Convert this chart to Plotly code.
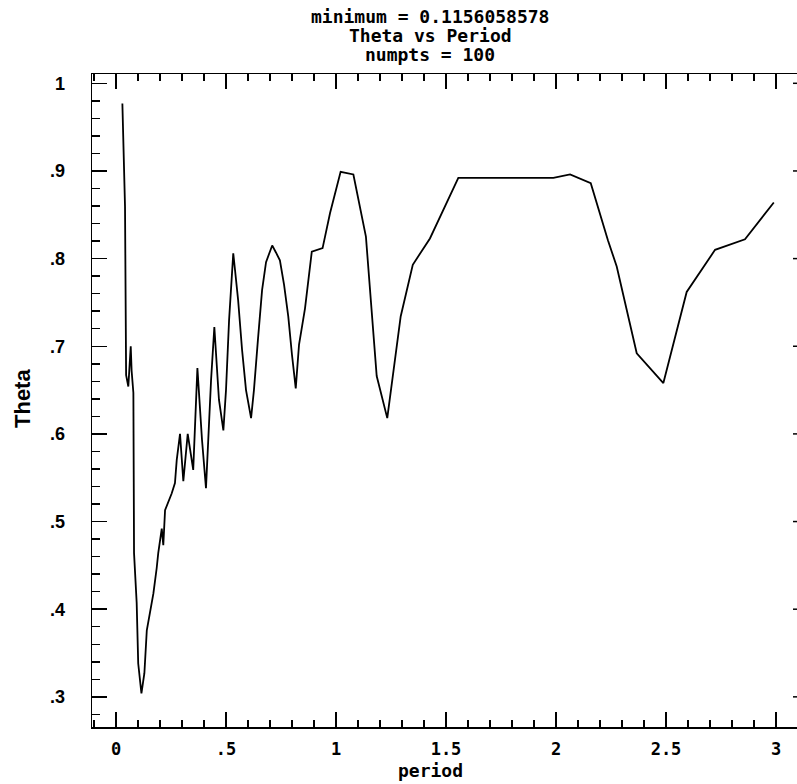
import plotly.graph_objects as go

# ---- data ----
period = [0.029, 0.033, 0.041, 0.046, 0.056, 0.067, 0.071, 0.079, 0.082, 0.094,
          0.101, 0.1156, 0.129, 0.140, 0.155, 0.170, 0.185, 0.192, 0.208, 0.215,
          0.223, 0.253, 0.268, 0.276, 0.291, 0.306, 0.326, 0.351, 0.370, 0.391,
          0.409, 0.418, 0.432, 0.447, 0.457, 0.468, 0.488, 0.500, 0.514, 0.533,
          0.541, 0.555, 0.573, 0.591, 0.614, 0.627, 0.645, 0.664, 0.682, 0.710,
          0.727, 0.745, 0.764, 0.783, 0.800, 0.817, 0.832, 0.859, 0.890, 0.939,
          0.973, 1.021, 1.079, 1.136, 1.185, 1.233, 1.294, 1.349, 1.427, 1.480,
          1.556, 1.988, 2.064, 2.158, 2.236, 2.276, 2.367, 2.488, 2.594, 2.723,
          2.859, 2.990]
theta = [0.977, 0.945, 0.859, 0.667, 0.654, 0.700, 0.672, 0.647, 0.464, 0.407,
         0.338, 0.304, 0.327, 0.376, 0.399, 0.418, 0.447, 0.464, 0.492, 0.473,
         0.513, 0.532, 0.544, 0.570, 0.600, 0.546, 0.600, 0.559, 0.675, 0.593,
         0.538, 0.593, 0.661, 0.722, 0.684, 0.639, 0.604, 0.650, 0.730, 0.806,
         0.787, 0.753, 0.696, 0.650, 0.618, 0.650, 0.707, 0.764, 0.796, 0.815,
         0.807, 0.798, 0.770, 0.734, 0.690, 0.652, 0.702, 0.743, 0.808, 0.812,
         0.852, 0.899, 0.896, 0.825, 0.666, 0.618, 0.734, 0.793, 0.823, 0.852,
         0.892, 0.892, 0.896, 0.886, 0.821, 0.791, 0.692, 0.658, 0.762, 0.810,
         0.822, 0.864]

x_tickvals = [0, 0.5, 1, 1.5, 2, 2.5, 3]
x_ticktext = ["0", ".5", "1", "1.5", "2", "2.5", "3"]
y_tickvals = [0.3, 0.4, 0.5, 0.6, 0.7, 0.8, 0.9, 1.0]
y_ticktext = [".3", ".4", ".5", ".6", ".7", ".8", ".9", "1"]

title_lines = ["minimum = 0.1156058578", "Theta vs Period", "numpts = 100"]
x_title = "period"
y_title = "Theta"

# ---- figure ----
W, H = 797, 784
L, R, T, B = 92, 0, 74, 57
pw, ph = W - L - R, H - T - B

fig = go.Figure()
fig.add_trace(go.Scatter(x=period, y=theta, mode="lines",
                         line=dict(color="black", width=1.8),
                         hoverinfo="skip", showlegend=False))

def px_to_paper_x(px):
    return (px - L) / pw

def px_to_paper_y(py):
    return (H - B - py) / ph

title_y_px = [16, 35.5, 55]
annotations = []
for txt, ypx in zip(title_lines, title_y_px):
    annotations.append(dict(text=txt, xref="paper", yref="paper",
                            x=px_to_paper_x(430), y=px_to_paper_y(ypx),
                            xanchor="center", yanchor="middle", showarrow=False,
                            font=dict(family="DejaVu Sans Mono", size=18,
                                      color="black", weight="bold")))
annotations.append(dict(text=x_title, xref="paper", yref="paper",
                        x=px_to_paper_x(430), y=px_to_paper_y(771),
                        xanchor="center", yanchor="middle", showarrow=False,
                        font=dict(family="DejaVu Sans Mono", size=18,
                                  color="black", weight="bold")))
annotations.append(dict(text=y_title, xref="paper", yref="paper",
                        x=px_to_paper_x(22), y=px_to_paper_y(399),
                        xanchor="center", yanchor="middle", showarrow=False,
                        textangle=-90,
                        font=dict(family="Liberation Sans", size=22,
                                  color="black", weight="bold")))

shapes = []
for v in y_tickvals:
    shapes.append(dict(type="line", xref="paper", yref="y",
                       x0=px_to_paper_x(793), x1=1.0, y0=v, y1=v,
                       line=dict(color="black", width=1.5)))

fig.update_layout(
    width=W, height=H,
    margin=dict(l=L, r=R, t=T, b=B, pad=0),
    paper_bgcolor="white", plot_bgcolor="white",
    annotations=annotations,
    shapes=shapes,
    xaxis=dict(range=[(L - 116) / 220, (W - R - 116) / 220],
               showline=True, linecolor="black", linewidth=1.5, mirror="ticks",
               ticks="inside", ticklen=15, tickwidth=1.5, tickcolor="black",
               tickvals=x_tickvals, ticktext=x_ticktext,
               ticklabelstandoff=6,
               minor=dict(dtick=0.1, tick0=0, ticks="inside", ticklen=7,
                          tickwidth=1.5, tickcolor="black", showgrid=False),
               showgrid=False, zeroline=False,
               tickfont=dict(family="DejaVu Sans Mono", size=17,
                             color="black", weight="bold")),
    yaxis=dict(range=[1 - (H - B - 83.3) / 876.5, 1 + (83.3 - T) / 876.5],
               showline=True, linecolor="black", linewidth=1.5, mirror=False,
               ticks="inside", ticklen=15, tickwidth=1.5, tickcolor="black",
               tickvals=y_tickvals, ticktext=y_ticktext,
               ticklabelstandoff=22,
               minor=dict(dtick=0.02, tick0=0, ticks="inside", ticklen=8,
                          tickwidth=1.5, tickcolor="black", showgrid=False),
               showgrid=False, zeroline=False,
               tickfont=dict(family="Liberation Sans", size=18,
                             color="black", weight="bold")),
)

fig.write_html("out.html",
               config={"displayModeBar": False, "staticPlot": True},
               post_script="document.body.style.margin='0px';"
                           "document.body.style.overflow='hidden';")
